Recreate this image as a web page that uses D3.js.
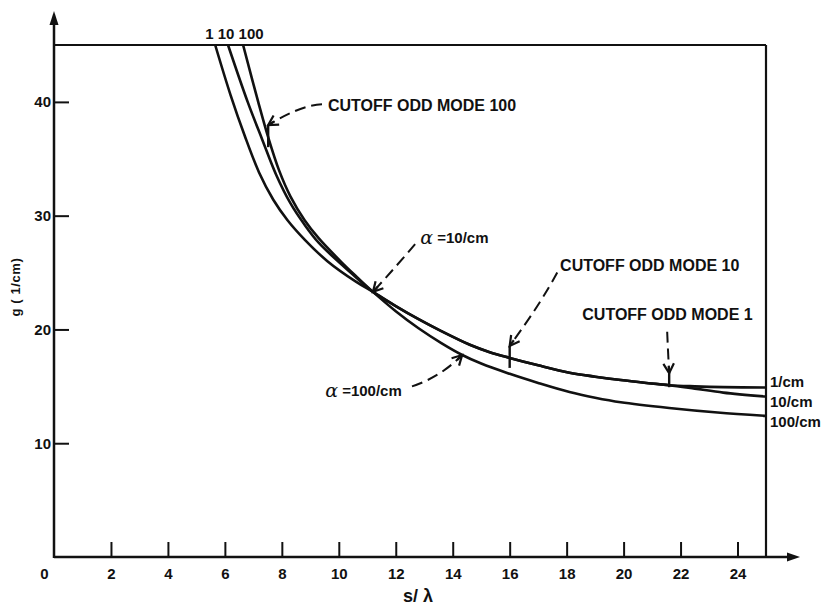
<!DOCTYPE html>
<html>
<head>
<meta charset="utf-8">
<script src="https://cdn.jsdelivr.net/npm/d3@7"></script>
<style>
  html, body { margin: 0; padding: 0; background: #fff; }
  svg { display: block; }
  text { font-family: "Liberation Sans", Arial, Helvetica, sans-serif; font-weight: bold; fill: #111; }
</style>
</head>
<body>
<svg id="chart" width="824" height="605"></svg>
<script>
// Coupling factor g (1/cm) against normalised spacing s/λ, one curve per loss α
const sLambdaA1   = [5.66, 6.2, 6.7, 7.2, 7.7, 8.2, 8.8, 9.6, 10.6, 11.2, 12.0, 12.8, 13.6, 14.6, 15.3, 16.0, 17.0, 18.1, 19.0, 19.9, 20.8, 21.6, 22.5, 23.5, 25.0];
const gA1         = [45.0, 40.6, 37.0, 33.8, 31.4, 29.6, 27.9, 26.0, 24.2, 23.3, 22.05, 20.9, 19.85, 18.65, 18.0, 17.5, 16.85, 16.2, 15.85, 15.55, 15.3, 15.1, 15.0, 14.93, 14.9];

const sLambdaA10  = [6.11, 6.8, 7.31, 7.8, 8.3, 8.8, 9.3, 10.1, 10.64, 11.2, 12.0, 12.8, 13.6, 14.6, 15.3, 16.0, 17.0, 18.1, 19.0, 19.9, 20.8, 21.6, 22.5, 23.5, 25.0];
const gA10        = [45.0, 40.0, 36.7, 33.6, 31.1, 29.2, 27.6, 25.7, 24.5, 23.3, 22.05, 20.9, 19.85, 18.65, 18.0, 17.5, 16.85, 16.2, 15.85, 15.55, 15.3, 15.1, 14.8, 14.45, 14.1];

const sLambdaA100 = [6.64, 7.17, 7.52, 7.9, 8.3, 8.8, 9.3, 10.1, 10.64, 11.2, 12.0, 12.8, 13.6, 14.3, 15.0, 16.0, 17.0, 18.1, 19.0, 19.9, 21.6, 23.3, 25.0];
const gA100       = [45.0, 40.0, 36.9, 34.0, 31.7, 29.6, 28.0, 25.9, 24.6, 23.3, 21.6, 20.1, 18.8, 17.8, 17.0, 16.1, 15.3, 14.5, 14.0, 13.6, 13.1, 12.7, 12.4];

const curveEndLabels = ["1/cm", "10/cm", "100/cm"];
const curveTopTags = "1 10 100";

const xTickValues = [0, 2, 4, 6, 8, 10, 12, 14, 16, 18, 20, 22, 24];
const yTickValues = [10, 20, 30, 40];
const xDomain = [0, 25];
const yDomain = [0, 45];

// Odd-mode cutoff points (s/λ, g) and their callouts
const cutoffLabels = ["CUTOFF ODD MODE 100", "CUTOFF ODD MODE 10", "CUTOFF ODD MODE 1"];
const cutoffS      = [7.52, 16.0, 21.6];
const cutoffG      = [36.9, 17.5, 15.1];
const cutoffTextS  = [9.62, 17.77, 18.55];
const cutoffTextG  = [39.7, 25.6, 21.3];
const cutoffLeadS  = [9.41, 17.67, 21.53];
const cutoffLeadG  = [39.8, 25.0, 19.8];
const cutoffBendS  = [8.64, 17.07, 21.56];
const cutoffBendG  = [39.7, 22.2, 18.0];

// Loss callouts α = 10/cm and α = 100/cm
const alphaLabels = ["=10/cm", "=100/cm"];
const alphaTipS   = [11.2, 14.33];
const alphaTipG   = [23.3, 17.75];
const alphaTextS  = [12.86, 9.52];
const alphaTextG  = [28.1, 14.7];
const alphaLeadS  = [12.68, 12.57];
const alphaLeadG  = [27.5, 15.0];
const alphaBendS  = [12.0, 13.56];
const alphaBendG  = [25.5, 15.8];

const svg = d3.select("#chart");
const x = d3.scaleLinear().domain(xDomain).range([54, 766]);
const y = d3.scaleLinear().domain(yDomain).range([557, 45]);
const ink = "#111";

// Frame: top and right border
svg.append("line").attr("x1", x(0)).attr("x2", x(25)).attr("y1", y(45)).attr("y2", y(45))
  .attr("stroke", ink).attr("stroke-width", 2);
svg.append("line").attr("x1", x(25)).attr("x2", x(25)).attr("y1", y(45)).attr("y2", y(0))
  .attr("stroke", ink).attr("stroke-width", 2.2);

// X axis with inward ticks
const xAxis = d3.axisBottom(x).tickValues(xTickValues).tickSizeInner(-15).tickSizeOuter(0).tickPadding(11)
  .tickFormat(d3.format("d"));
const gx = svg.append("g").attr("transform", `translate(0,${y(0)})`).call(xAxis);
gx.select(".domain").remove();
gx.selectAll(".tick line").attr("stroke", ink).attr("stroke-width", 2);
gx.selectAll(".tick text").attr("font-size", 15).attr("fill", ink);
gx.selectAll(".tick").filter(d => d === 0).select("line").remove();
gx.selectAll(".tick").filter(d => d === 0).select("text").attr("x", -10);

// Y axis with inward ticks
const yAxis = d3.axisLeft(y).tickValues(yTickValues).tickSizeInner(-15).tickSizeOuter(0).tickPadding(3);
const gy = svg.append("g").attr("transform", `translate(${x(0)},0)`).call(yAxis);
gy.select(".domain").remove();
gy.selectAll(".tick line").attr("stroke", ink).attr("stroke-width", 2);
gy.selectAll(".tick text").attr("font-size", 15).attr("fill", ink);

// Axis lines with arrowheads
svg.append("line").attr("x1", x(0)).attr("x2", 790).attr("y1", y(0)).attr("y2", y(0))
  .attr("stroke", ink).attr("stroke-width", 2.5);
svg.append("path").attr("d", `M800,${y(0)} L787,${y(0) - 4.5} L787,${y(0) + 4.5} Z`).attr("fill", ink);
svg.append("line").attr("x1", x(0)).attr("x2", x(0)).attr("y1", y(0) + 1).attr("y2", 22)
  .attr("stroke", ink).attr("stroke-width", 2.5);
svg.append("path").attr("d", `M${x(0)},11 L${x(0) - 4.5},25 L${x(0) + 4.5},25 Z`).attr("fill", ink);

// Axis titles
svg.append("text").attr("x", 418).attr("y", 602).attr("text-anchor", "middle")
  .attr("font-size", 18).text("s/ λ");
svg.append("text").attr("transform", "translate(20,287) rotate(-90)").attr("text-anchor", "middle")
  .attr("font-size", 13).attr("letter-spacing", 0.6).text("g ( 1/cm)");

// Curves
const series = [
  d3.zip(sLambdaA1, gA1),
  d3.zip(sLambdaA10, gA10),
  d3.zip(sLambdaA100, gA100)
];
const lineGen = d3.line().x(d => x(d[0])).y(d => y(d[1])).curve(d3.curveCatmullRom.alpha(0.5));
svg.append("g").selectAll("path").data(series).join("path")
  .attr("d", lineGen).attr("fill", "none").attr("stroke", ink).attr("stroke-width", 2.6)
  .attr("stroke-linejoin", "round");

// Curve tags at top and α labels at right edge
svg.append("text").attr("x", x(sLambdaA1[0]) - 10).attr("y", y(45) - 12)
  .attr("dominant-baseline", "central").attr("font-size", 15).text(curveTopTags);
const endOffsets = [-6, 5, 6];
series.forEach((s, i) => {
  const last = s[s.length - 1];
  svg.append("text").attr("x", x(25) + 4).attr("y", y(last[1]) + endOffsets[i])
    .attr("dominant-baseline", "central").attr("font-size", 15).text(curveEndLabels[i]);
});

// Dashed leader with an open arrowhead
function leader(sx, sy, cx, cy, tx, ty) {
  svg.append("path").attr("d", `M${sx},${sy} Q${cx},${cy} ${tx},${ty}`)
    .attr("fill", "none").attr("stroke", ink).attr("stroke-width", 2)
    .attr("stroke-dasharray", "11,6");
  const ang = Math.atan2(ty - cy, tx - cx);
  const len = 11, spread = 0.5;
  const b1 = [tx - len * Math.cos(ang - spread), ty - len * Math.sin(ang - spread)];
  const b2 = [tx - len * Math.cos(ang + spread), ty - len * Math.sin(ang + spread)];
  svg.append("path").attr("d", `M${b1[0]},${b1[1]} L${tx},${ty} L${b2[0]},${b2[1]}`)
    .attr("fill", "none").attr("stroke", ink).attr("stroke-width", 2.2).attr("stroke-linejoin", "miter");
  svg.append("line").attr("x1", tx).attr("y1", ty)
    .attr("x2", tx - 7 * Math.cos(ang)).attr("y2", ty - 7 * Math.sin(ang))
    .attr("stroke", ink).attr("stroke-width", 2.2);
}

// Cutoff callouts: short mark across the curve, arrow pointing at it
const tickBelow = [10, 10, 2];
cutoffLabels.forEach((lab, i) => {
  const cx = x(cutoffS[i]), cy = y(cutoffG[i]);
  svg.append("line").attr("x1", cx).attr("x2", cx).attr("y1", cy - 12).attr("y2", cy + tickBelow[i])
    .attr("stroke", ink).attr("stroke-width", 2.4);
  leader(x(cutoffLeadS[i]), y(cutoffLeadG[i]), x(cutoffBendS[i]), y(cutoffBendG[i]), cx, cy - 12);
  svg.append("text").attr("x", x(cutoffTextS[i])).attr("y", y(cutoffTextG[i]))
    .attr("dominant-baseline", "central").attr("font-size", 16).text(lab);
});

// α callouts
alphaLabels.forEach((lab, i) => {
  leader(x(alphaLeadS[i]), y(alphaLeadG[i]), x(alphaBendS[i]), y(alphaBendG[i]), x(alphaTipS[i]), y(alphaTipG[i]));
  const t = svg.append("text").attr("x", x(alphaTextS[i])).attr("y", y(alphaTextG[i]))
    .attr("dominant-baseline", "central").attr("font-size", 15);
  t.append("tspan").attr("font-family", "DejaVu Serif").attr("font-style", "italic")
    .attr("font-weight", "normal").attr("font-size", 19).text("α");
  t.append("tspan").text(" " + lab);
});
</script>
</body>
</html>
